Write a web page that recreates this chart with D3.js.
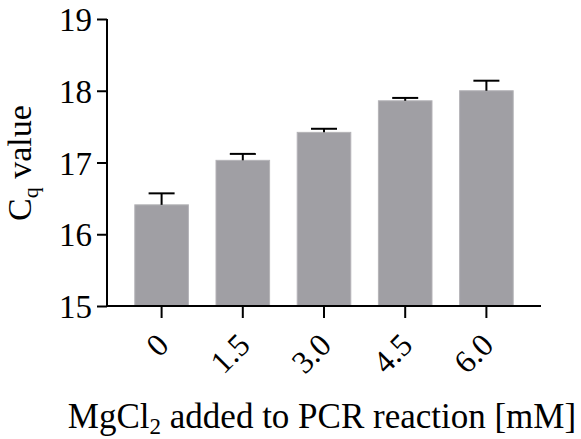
<!DOCTYPE html>
<html><head><meta charset="utf-8">
<script src="https://cdn.jsdelivr.net/npm/d3@7"></script>
<style>body{margin:0;background:#fff}svg{display:block}svg text{font-family:"Liberation Serif","Times New Roman",Times,serif}</style>
</head><body>
<svg id="c" width="581" height="439"></svg>
<script>
const categories = ["0", "1.5", "3.0", "4.5", "6.0"];
const means = [16.41, 17.03, 17.42, 17.86, 18.00];
const errors = [0.16, 0.09, 0.05, 0.04, 0.14];
const yTicks = [15, 16, 17, 18, 19];

const svg = d3.select("#c");
const mLeft = 107, mRight = 541, mTop = 19, mBottom = 306;

const x = d3.scaleBand().domain(categories).range([mLeft + 14, mRight - 14]).paddingInner(0.34).paddingOuter(0.17);
const y = d3.scaleLinear().domain([15, 19]).range([mBottom, mTop]);

// bars
svg.append("g").selectAll("rect").data(categories).join("rect")
  .attr("x", d => x(d)).attr("width", x.bandwidth())
  .attr("y", (d, i) => y(means[i])).attr("height", (d, i) => y(15) - y(means[i]))
  .attr("fill", "#a09fa4").attr("stroke", "#b4b3b7").attr("stroke-width", 1);

// error bars
const eb = svg.append("g").attr("stroke", "#000").attr("stroke-width", 2);
categories.forEach((d, i) => {
  const cx = x(d) + x.bandwidth() / 2;
  eb.append("line").attr("x1", cx).attr("x2", cx).attr("y1", y(means[i])).attr("y2", y(means[i] + errors[i]));
  eb.append("line").attr("x1", cx - 13).attr("x2", cx + 13).attr("y1", y(means[i] + errors[i])).attr("y2", y(means[i] + errors[i]));
});

// y axis
const ya = svg.append("g").attr("transform", `translate(${mLeft},0)`)
  .call(d3.axisLeft(y).tickValues(yTicks).tickSize(10).tickPadding(5).tickFormat(d3.format("d")));
ya.attr("font-family", null);
ya.select(".domain").attr("stroke", "#000").attr("stroke-width", 2).attr("d", `M0,${mTop}V${mBottom}`);
ya.selectAll(".tick line").attr("stroke", "#000").attr("stroke-width", 2);
ya.selectAll(".tick text").attr("font-size", 33).attr("fill", "#000").attr("dy", "0.35em");

// x axis
const xa = svg.append("g").attr("transform", `translate(0,${mBottom})`)
  .call(d3.axisBottom(x).tickSize(12).tickSizeOuter(0));
xa.attr("font-family", null);
xa.select(".domain").attr("stroke", "#000").attr("stroke-width", 2).attr("d", `M${mLeft},0H${mRight}`);
xa.selectAll(".tick line").attr("stroke", "#000").attr("stroke-width", 2);
xa.selectAll(".tick text").attr("font-size", 32).attr("fill", "#000")
  .attr("text-anchor", "end").attr("dy", null).attr("y", 0)
  .attr("transform", "translate(9,41) rotate(-45)");

// y label
svg.append("text").attr("transform", "translate(31,163) rotate(-90)").attr("text-anchor", "middle")
  .attr("font-size", 34).attr("fill", "#000")
  .call(t => {
    t.append("tspan").text("C");
    t.append("tspan").text("q").attr("font-size", 22).attr("dy", 7);
    t.append("tspan").text(" value").attr("dy", -7);
  });

// x label
svg.append("text").attr("x", 322).attr("y", 428).attr("text-anchor", "middle")
  .attr("font-size", 35).attr("fill", "#000")
  .call(t => {
    t.append("tspan").text("MgCl");
    t.append("tspan").text("2").attr("font-size", 23).attr("dy", 6);
    t.append("tspan").text(" added to PCR reaction [mM]").attr("dy", -6);
  });
</script>
</body></html>
